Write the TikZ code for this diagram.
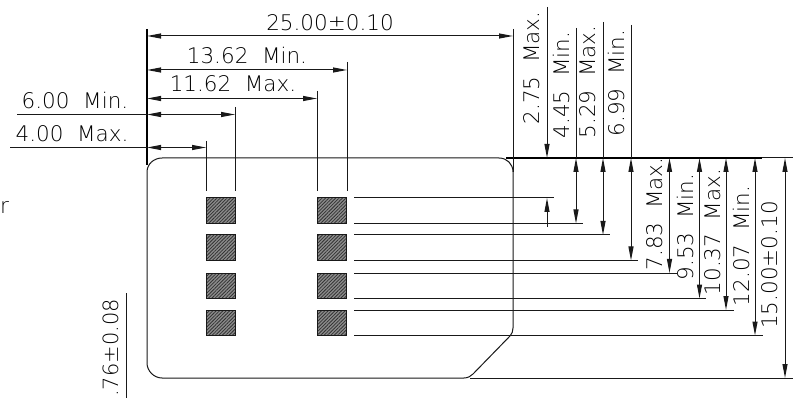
\documentclass[tikz,border=0pt]{standalone}
\usepackage{fontspec}
\usetikzlibrary{arrows.meta,patterns.meta}
\newfontfamily\cadfont{DejaVu Sans ExtraLight}
\tikzset{
  ln/.style={line width=1pt,draw=black!90},
  bold/.style={line width=1.5pt,draw=black},
  dim/.style={ln,{Triangle[length=14pt,width=5pt]}-{Triangle[length=14pt,width=5pt]}},
  dimend/.style={ln,-{Triangle[length=14pt,width=5pt]}},
  lab/.style={inner sep=0pt,font=\cadfont\fontsize{21.5}{21.5}\selectfont,text=black},
  vlab/.style={lab,rotate=90},
  pad/.style={fill=black!45,postaction={pattern={Lines[angle=45,distance=2.4pt,line width=0.8pt]},pattern color=black!80}},
  padedge/.style={draw=black!90,line width=1pt}
}
\begin{document}
\begin{tikzpicture}[x=1pt,y=-1pt]
\useasboundingbox (0,0) rectangle (798,398);
% card
\draw[ln] (162,158) -- (499,158) .. controls (507,158) and (513,164) .. (513,172) -- (513,328)
  .. controls (513,331) and (512,334) .. (510,336) -- (473,374) .. controls (471,376) and (468,378) .. (464,378) -- (162,378)
  .. controls (154,378) and (147,371) .. (147,363) -- (147,172) .. controls (147,164) and (154,158) .. (162,158);
% pads
\foreach \yy in {198,235,273,310}{
  \foreach \xx in {206,317}{
    \path[pad] (\xx,\yy) rectangle ++(29.5,25.5);
    \path[padedge] (\xx,\yy) rectangle ++(29.5,25.5);
  }
}
% extension lines: top edge datum
\draw[bold] (147,29) -- (147,165);
\draw[bold] (506,158) -- (762,158);
\draw[ln] (762,158) -- (793,158);
\draw[ln] (513,29) -- (513,172);
\draw[ln] (470,378) -- (793,378);
\draw[ln] (347,62) -- (347,191);
\draw[ln] (317,91) -- (317,191);
\draw[ln] (235,107) -- (235,191);
\draw[ln] (206,141) -- (206,191);
\draw[ln] (126,293) -- (126,398);
% horizontal dimensions
\draw[dim] (147,36) -- (513,36);
\draw[dim] (147,70) -- (347,70);
\draw[dim] (147,98.5) -- (317,98.5);
\draw[dim] (147,114.5) -- (235,114.5);
\draw[dim] (147,147.5) -- (206,147.5);
\draw[ln] (17,114.5) -- (147,114.5);
\draw[ln] (10,147.5) -- (147,147.5);
% pad leaders
\draw[ln] (354,198) -- (554,198);
\draw[ln] (354,223.5) -- (583,223.5);
\draw[ln] (354,235) -- (610,235);
\draw[ln] (354,260.5) -- (638,260.5);
\draw[ln] (354,273) -- (677,273);
\draw[ln] (354,298.5) -- (706,298.5);
\draw[ln] (354,310) -- (734,310);
\draw[ln] (354,335.5) -- (763,335.5);
% vertical dimensions above
\draw[dimend] (547,7) -- (547,158);
\draw[dimend] (547,227) -- (547,198);
\draw[ln] (576,28) -- (576,158);
\draw[ln] (603,22) -- (603,158);
\draw[ln] (631,25) -- (631,158);
% vertical dimensions below
\draw[dim] (576,158) -- (576,223.5);
\draw[dim] (603,158) -- (603,235);
\draw[dim] (631,158) -- (631,260.5);
\draw[dim] (669.5,158) -- (669.5,273);
\draw[dim] (699.5,158) -- (699.5,298.5);
\draw[dim] (726,158) -- (726,310);
\draw[dim] (755,158) -- (755,335.5);
\draw[dim] (785,158) -- (785,378);
% labels
\node[lab] (a) at (330,23) {25.00±0.10};
\node[lab] (b) at (247,55.5) {13.62\ \ Min.};
\node[lab] (c) at (233,84) {11.62\ \ Max.};
\node[lab] (d) at (75,100) {6.00\ \ Min.};
\node[lab] (e) at (72,134) {4.00\ \ Max.};
\node[vlab] (f) at (532,68) {2.75\ \ Max.};
\node[vlab] (g) at (561,85) {4.45\ \ Min.};
\node[vlab] (h) at (588,82) {5.29\ \ Max.};
\node[vlab] (i) at (616,83) {6.99\ \ Min.};
\node[vlab] (j) at (655,214) {7.83\ \ Max.};
\node[vlab] (k) at (685,227) {9.53\ \ Min.};
\node[vlab] (l) at (713,232) {10.37\ \ Max.};
\node[vlab] (m) at (741,246) {12.07\ \ Min.};
\node[vlab] (n) at (770,265) {15.00±0.10};
\node[vlab,anchor=east] (o) at (110.5,299) {\fontsize{21}{21}\selectfont .76±0.08};
\node[lab] (p) at (4.5,207) {r};
\end{tikzpicture}
\end{document}
